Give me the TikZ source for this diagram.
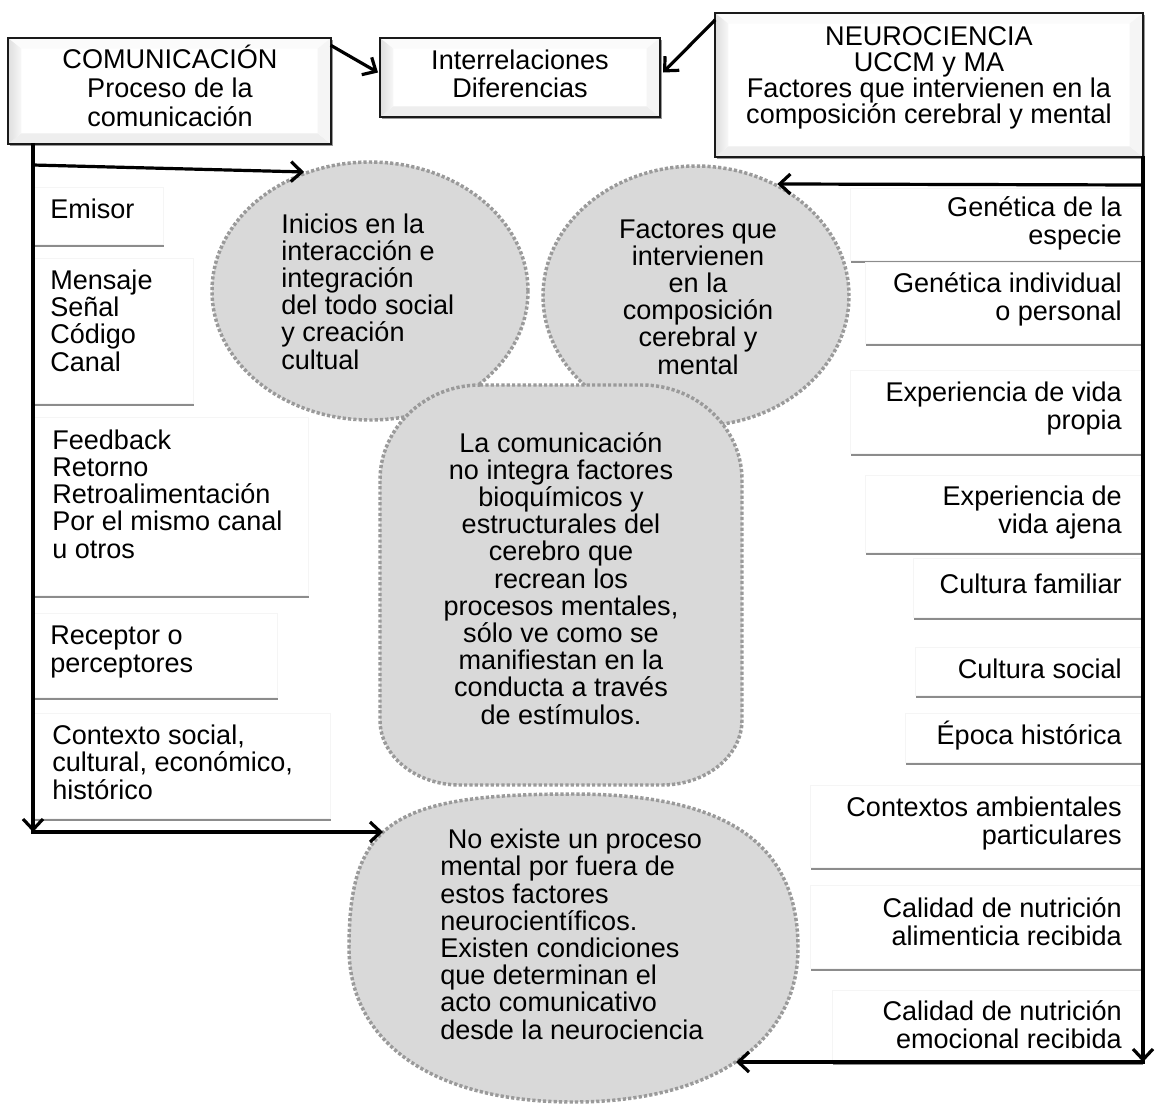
\documentclass[tikz,border=0pt]{standalone}
\usepackage{fontspec}
\setmainfont{Liberation Sans}
\usetikzlibrary{arrows.meta,fit,shapes.geometric,shadows,calc}

\definecolor{blobfill}{HTML}{D9D9D9}
\definecolor{blobdots}{HTML}{9A9A9A}
\definecolor{inkline}{HTML}{1A1A1A}

% tight line spacing: never insert extra lineskip between text lines
\lineskiplimit=-16000pt
\lineskip=0pt

% bevelled facets of the heading boxes
\newcommand\bevelfacets{%
  \fill[gray!3] (path picture bounding box.north west)
    -- (path picture bounding box.north east)
    -- ([xshift=-10pt,yshift=-8pt]path picture bounding box.north east)
    -- ([xshift=10pt,yshift=-8pt]path picture bounding box.north west) -- cycle;
  \fill[gray!13] (path picture bounding box.south west)
    -- (path picture bounding box.south east)
    -- ([xshift=-10pt,yshift=8pt]path picture bounding box.south east)
    -- ([xshift=10pt,yshift=8pt]path picture bounding box.south west) -- cycle;
  \fill[gray!8] (path picture bounding box.north east)
    -- (path picture bounding box.south east)
    -- ([xshift=-10pt,yshift=8pt]path picture bounding box.south east)
    -- ([xshift=-10pt,yshift=-8pt]path picture bounding box.north east) -- cycle;
  \shade[left color=gray!26, right color=gray!6] (path picture bounding box.north west)
    -- (path picture bounding box.south west)
    -- ([xshift=10pt,yshift=8pt]path picture bounding box.south west)
    -- ([xshift=10pt,yshift=-8pt]path picture bounding box.north west) -- cycle;%
}

% multi-line labels are placed by the baseline of their last line
\tikzset{
  txt/.style={inner sep=0pt, text=black, font=\fontsize{20.3}{20.4}\selectfont},
  ltxt/.style={txt, align=left, anchor=base west},
  rtxt/.style={txt, align=right, anchor=base east},
  ctxt/.style={txt, align=center, anchor=base},
  blob/.style={fill=blobfill, draw=blobdots, line width=2.6pt,
    dash pattern=on 2.4pt off 1.6pt},
  card/.style={inner sep=0pt, fill=white, draw=gray!8, line width=0.6pt,
    drop shadow={shadow xshift=0.6pt, shadow yshift=-2pt, fill=black, opacity=0.45}},
  bevel/.style={inner sep=0pt, fill=white, draw=inkline, line width=1.5pt,
    drop shadow={shadow xshift=1.2pt, shadow yshift=-1.8pt, fill=black, opacity=0.4},
    path picture={\bevelfacets}},
  arr/.style={draw=black, line width=2.4pt, line cap=rect,
    -{Straight Barb[length=8pt,width=15pt]}},
}

\begin{document}
\begin{tikzpicture}[x=0.75pt,y=-0.75pt]
  % canvas
  \path[fill=white] (0,0) rectangle (1157,1104);
  \useasboundingbox (0,0) rectangle (1157,1104);

  % grey bubbles
  \node[blob, ellipse, inner sep=0pt, minimum width=237pt, minimum height=193.5pt]
    (inic) at (370,291) {};
  \node[blob, ellipse, inner sep=0pt, minimum width=229.5pt, minimum height=195pt]
    (fact) at (696,296) {};
  \path[blob] (480,385) -- (642,385) .. controls (697,385) and (742,428) .. (742,480)
    -- (742,720) .. controls (742,756) and (706,785) .. (662,785)
    -- (460,785) .. controls (416,785) and (380,756) .. (380,720)
    -- (380,480) .. controls (380,428) and (425,385) .. (480,385) -- cycle;
  \path[blob] (349,948) .. controls (349,823) and (392,794) .. (573,794)
    .. controls (726,794) and (798,843) .. (798,948)
    .. controls (798,1043) and (712,1102) .. (573,1102)
    .. controls (434,1102) and (349,1043) .. (349,948) -- cycle;

  \node[ltxt] (inict) at (281,369) {Inicios en la\\interacción e\\integración\\del todo social\\y creación\\cultual};
  \node[ctxt] (factt) at (698,374) {Factores que\\intervienen\\en la\\composición\\cerebral y\\mental};
  \node[ctxt] (comut) at (561,724) {La comunicación\\no integra factores\\bioquímicos y\\estructurales del\\cerebro que\\recrean los\\procesos mentales,\\sólo ve como se\\manifiestan en la\\conducta a través\\de estímulos.};
  \node[ltxt] (noext) at (440,1039) {\ No existe un proceso\\mental por fuera de\\estos factores\\neurocientíficos.\\Existen condiciones\\que determinan el\\acto comunicativo\\desde la neurociencia};

  % heading boxes
  \node[bevel, fit={(8,38) (331,144)}] (comm) {};
  \node[ctxt, font=\fontsize{20.3}{21.75}\selectfont]
    (commt) at (170,126) {COMUNICACIÓN\\Proceso de la\\comunicación};
  \node[bevel, fit={(380,38) (660,117)}] (inter) {};
  \node[ctxt] (intert) at (520,97) {Interrelaciones\\Diferencias};
  \node[bevel, fit={(715,13) (1143,157)}] (neuro) {};
  \node[ctxt, font=\fontsize{20.3}{19.5}\selectfont]
    (neurot) at (929,123) {NEUROCIENCIA\\UCCM y MA\\Factores que intervienen en la\\composición cerebral y mental};

  % elements of communication
  \node[card, fit={(33,187) (163,244)}] (emisor) {};
  \node[ltxt] (emisort) at (50,218) {Emisor};
  \node[card, fit={(33,258) (193,403)}] (mensaje) {};
  \node[ltxt] (mensajet) at (50,371) {Mensaje\\Señal\\Código\\Canal};
  \node[card, fit={(33,417) (308,595)}] (feedb) {};
  \node[ltxt] (feedbt) at (52,558) {Feedback\\Retorno\\Retroalimentación\\Por el mismo canal\\u otros};
  \node[card, fit={(33,613) (277,697)}] (recep) {};
  \node[ltxt] (recept) at (50,672) {Receptor o\\perceptores};
  \node[card, fit={(33,713) (330,818)}] (contx) {};
  \node[ltxt] (contxt) at (52,799) {Contexto social,\\cultural, económico,\\histórico};

  % neuroscientific factors
  \node[card, fit={(850,188) (1142,260)}] (gen1) {};
  \node[rtxt] (gen1t) at (1122,244) {Genética de la\\especie};
  \node[card, fit={(865,262) (1142,343)}] (gen2) {};
  \node[rtxt] (gen2t) at (1122,320) {Genética individual\\o personal};
  \node[card, fit={(850,370) (1142,453)}] (exp1) {};
  \node[rtxt] (exp1t) at (1122,429) {Experiencia de vida\\propia};
  \node[card, fit={(865,475) (1142,552)}] (exp2) {};
  \node[rtxt] (exp2t) at (1122,533) {Experiencia de\\vida ajena};
  \node[card, fit={(913,558) (1142,617)}] (culf) {};
  \node[rtxt] (culft) at (1122,593) {Cultura familiar};
  \node[card, fit={(915,647) (1142,695)}] (culs) {};
  \node[rtxt] (culst) at (1122,678) {Cultura social};
  \node[card, fit={(905,713) (1142,762)}] (epoca) {};
  \node[rtxt] (epocat) at (1122,744) {Época histórica};
  \node[card, fit={(810,785) (1142,867)}] (ctxa) {};
  \node[rtxt] (ctxat) at (1122,844) {Contextos ambientales\\particulares};
  \node[card, fit={(810,885) (1142,968)}] (cal1) {};
  \node[rtxt] (cal1t) at (1122,945) {Calidad de nutrición\\alimenticia recibida};
  \node[card, fit={(832,990) (1142,1062)}] (cal2) {};
  \node[rtxt] (cal2t) at (1122,1048) {Calidad de nutrición\\emocional recibida};

  % connectors
  \coordinate (lcorner) at (33,832);
  \coordinate (ltee) at (33,165);
  \coordinate (noexin) at (383,832);
  \coordinate (rcorner) at (1143,1062);
  \coordinate (rtee) at (1143,185);
  \coordinate (noexout) at (736,1062);

  \draw[arr] ($(comm.north east)+(0,9)$) -- ($(inter.west)+(-1,-5)$);
  \draw[arr] ($(neuro.north west)+(0,9)$) -- ($(inter.east)+(2,-5)$);

  \draw[arr] (comm.south -| lcorner) -- (lcorner);
  \draw[arr] (ltee) -- (inic.119);
  \draw[arr] (lcorner) -- (noexin);

  \draw[arr] (neuro.south -| rcorner) -- (rcorner);
  \draw[arr] (rtee) -- (fact.54);
  \draw[arr] (rcorner) -- (noexout);
\end{tikzpicture}
\end{document}
